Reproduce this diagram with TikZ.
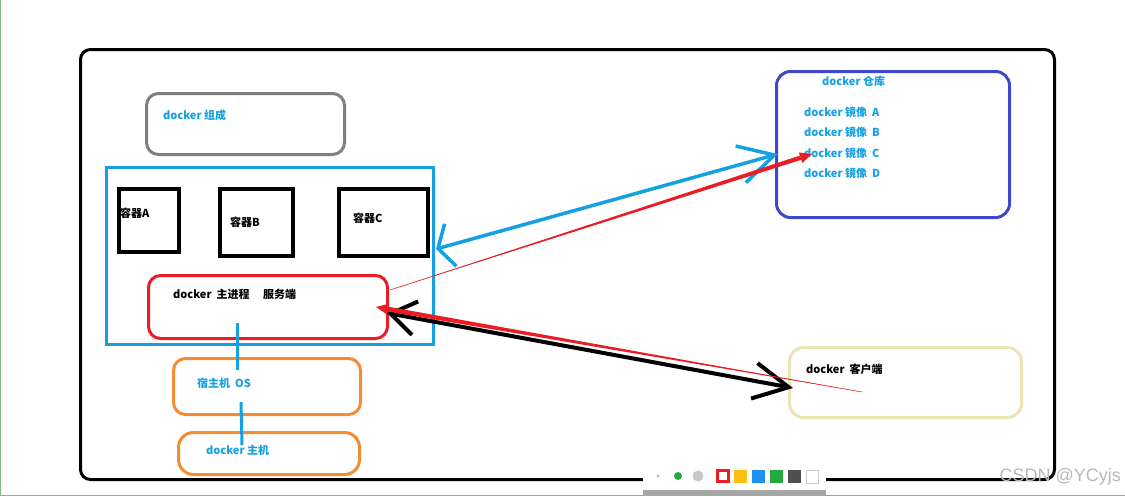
\documentclass[tikz,border=0pt]{standalone}
\usepackage{fontspec}
\setmainfont{Noto Sans CJK SC}
\setsansfont{Liberation Sans}
\usepackage{tikz}
\usetikzlibrary{positioning,calc,arrows.meta}

\definecolor{paintblue}{RGB}{20,160,226}
\definecolor{paintred}{RGB}{232,30,36}
\definecolor{paintindigo}{RGB}{63,72,204}
\definecolor{paintorange}{RGB}{244,140,52}
\definecolor{paintcream}{RGB}{236,228,180}
\definecolor{paintgrey}{RGB}{127,127,127}
\definecolor{tbyellow}{RGB}{255,190,20}
\definecolor{tbblue}{RGB}{30,144,240}
\definecolor{tbgreen}{RGB}{34,170,60}
\definecolor{tbdark}{RGB}{80,80,80}

\tikzset{
  box/.style={draw, line width=3pt, rounded corners=12pt, anchor=north west, inner sep=0pt},
  cbox/.style={draw=black, line width=3.5pt, anchor=north west, inner sep=0pt},
  txt/.style={anchor=west, inner sep=0pt, font=\fontsize{11}{13}\selectfont\bfseries},
  bluetxt/.style={txt, text=paintblue},
  link/.style={draw=paintblue, line width=3pt},
  pushline/.style={draw=paintblue, line width=3.5pt, line cap=round},
  cliline/.style={draw=black, line width=4pt, line cap=round}
}

\begin{document}
\begin{tikzpicture}[x=1pt,y=-1pt]
\useasboundingbox (0,0) rectangle (1125,496);
\draw[green!45!black!50, line width=1pt] (0.5,0) -- (0.5,496) (0,495.5) -- (1125,495.5);

% outer board
\node[box, draw=black, rounded corners=10pt, minimum width=974pt, minimum height=430pt] (board) at (79,48) {};

% left side
\node[box, draw=paintgrey, minimum width=198pt, minimum height=61pt] (group) at (145,92) {};
\node[bluetxt] (grouptxt) at (163,115) {docker 组成};

\node[box, draw=paintblue, rounded corners=0pt, minimum width=327pt, minimum height=177pt] (stack) at (105,166) {};
\node[cbox, minimum width=60pt, minimum height=63pt] (conA) at (117,187) {};
\node[cbox, minimum width=73pt, minimum height=67pt] (conB) at (218,187) {};
\node[cbox, minimum width=89pt, minimum height=67pt] (conC) at (337,187) {};
\node[txt] (conAtxt) at (120,213) {容器A};
\node[txt] (conBtxt) at (230,222) {容器B};
\node[txt] (conCtxt) at (353,218) {容器C};

\node[box, draw=paintred, minimum width=239pt, minimum height=63pt] (engine) at (147,274) {};
\node[txt] (enginetxt) at (173,294) {docker\ \ 主进程\quad\ 服务端};

\node[box, draw=paintorange, minimum width=187pt, minimum height=56pt] (hostos) at (172,357) {};
\node[bluetxt] (hostostxt) at (197,383) {宿主机\ \ OS};
\node[box, draw=paintorange, rounded corners=15pt, minimum width=181pt, minimum height=42pt] (dhost) at (177,431) {};
\node[bluetxt] (dhosttxt) at (206,450) {docker 主机};

\coordinate (engineIn) at (237,323);
\coordinate (hostosTop) at (237,370);
\coordinate (hostosIn) at (241,402);
\coordinate (dhostTop) at (242,445);
\draw[link] (engineIn) -- (hostosTop);
\draw[link] (hostosIn) -- (dhostTop);

% right side
\node[box, draw=paintindigo, rounded corners=14pt, minimum width=233pt, minimum height=146pt] (repo) at (775,70) {};
\node[bluetxt] (repotxt) at (822,81) {docker 仓库};
\foreach \img/\yy in {A/112,B/132,C/153,D/173}
  \node[bluetxt] (img\img) at (804,\yy) {docker 镜像\ \ \img};

\node[box, draw=paintcream, rounded corners=14pt, minimum width=232pt, minimum height=70pt] (client) at (788,346) {};
\node[txt] (clienttxt) at (806,369) {docker\ \ 客户端};

% arrows
\coordinate (pushL) at (436,249);
\coordinate (pushR) at (778,154);
\draw[pushline, {Straight Barb[length=13pt,width=44pt]}-{Straight Barb[length=35pt,width=38pt]}] (pushL) -- (pushR);

\coordinate (cliL) at (387,313);
\coordinate (cliR) at (793,388);
\draw[cliline, {Straight Barb[length=25pt,width=34pt]}-{Straight Barb[length=35pt,width=36pt]}] (cliL) -- (cliR);

\coordinate (pullS) at (390,290);
\coordinate (pullE) at (812,154);
\coordinate (pullB) at ($(pullE)!12pt!(pullS)$);
\draw[paintred, line width=0.5pt] (pullS) -- (pullB);
\fill[paintred] (pullS) -- ($(pullB)!2.2pt!90:(pullS)$) -- ($(pullB)!2.2pt!-90:(pullS)$) -- cycle;
\fill[paintred] (pullE) -- ($(pullB)!5.5pt!90:(pullS)$) -- ($(pullB)!5.5pt!-90:(pullS)$) -- cycle;

\coordinate (sendS) at (862,392);
\coordinate (sendE) at (376,307);
\coordinate (sendB) at ($(sendE)!12pt!(sendS)$);
\draw[paintred, line width=0.5pt] (sendS) -- (sendB);
\fill[paintred] (sendS) -- ($(sendB)!2.4pt!90:(sendS)$) -- ($(sendB)!2.4pt!-90:(sendS)$) -- cycle;
\fill[paintred] (sendE) -- ($(sendB)!5.5pt!90:(sendS)$) -- ($(sendB)!5.5pt!-90:(sendS)$) -- cycle;

% toolbar
\fill[black!35] (643,489) rectangle (826,496);
\fill[white] (643,458) rectangle (826,490);
\fill[black!30] (658,476) circle (1.5pt);
\fill[tbgreen] (678,476) circle (4pt);
\fill[black!22] (698,476) circle (5.5pt);
\draw[paintred, line width=2.5pt] (717.5,470.5) rectangle (728.5,481.5);
\foreach \c [count=\i] in {tbyellow,tbblue,tbgreen,tbdark}
  \fill[\c] ({716+18*\i},470) rectangle ++(13,13);
\draw[black!20, line width=0.6pt] (806,470) rectangle (818,483);

\node[anchor=east, inner sep=0pt, text=black!28, font=\sffamily\fontsize{18}{20}\selectfont] (mark) at (1121,477) {CSDN @YCyjs};
\end{tikzpicture}
\end{document}
